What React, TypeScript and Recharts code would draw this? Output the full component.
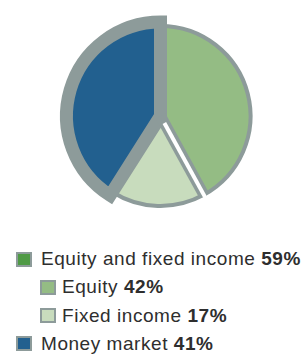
import React from 'react';
import { PieChart, Pie, Cell } from 'recharts';

// slices, clockwise from 12 o'clock
const categories = ['Equity', 'Fixed income', 'Money market'];
const shares = [42, 17, 41];

// legend rows (the first one groups equity + fixed income)
const legendLabels = ['Equity and fixed income', 'Equity', 'Fixed income', 'Money market'];
const legendShares = [59, 42, 17, 41];
const legendDepth = [0, 1, 1, 0];

const GRAY = '#8d9b9a';
const BLUE = '#22608f';
const GREEN = '#94bc84';
const LIGHT = '#c8dcbd';
const DARK_GREEN = '#4f9a45';

const sliceColors = [GREEN, LIGHT, BLUE];
const legendColors = [DARK_GREEN, GREEN, LIGHT, BLUE];

const data = categories.map((name, i) => ({ name, value: shares[i] }));

// white cut between equity and fixed income, laid on the equity end angle
const renderSeparator = (props: any) => {
  if (props.index !== 0) return null;
  const { cx, cy, endAngle, outerRadius } = props;
  const rad = (-endAngle * Math.PI) / 180;
  const at = (r: number) => [cx + r * Math.cos(rad), cy + r * Math.sin(rad)];
  const [x0, y0] = at(0);
  const [x1, y1] = at(outerRadius);
  const [w0x, w0y] = at(8);
  const [w1x, w1y] = at(outerRadius + 4);
  return (
    <g>
      <line x1={x0} y1={y0} x2={x1} y2={y1} stroke={GRAY} strokeWidth={11} />
      <line x1={w0x} y1={w0y} x2={w1x} y2={w1y} stroke="#fff" strokeWidth={4} />
    </g>
  );
};

export default function App() {
  return (
    <div
      style={{
        position: 'absolute',
        left: 0,
        top: 0,
        width: 305,
        height: 355,
        background: '#fff',
        fontFamily: '"Liberation Sans", Arial, sans-serif',
        color: '#2e2e2e',
      }}
    >
      <PieChart width={305} height={220}>
        <Pie
          data={data}
          dataKey="value"
          cx={155.5}
          cy={111}
          startAngle={90}
          endAngle={-270}
          outerRadius={90}
          isAnimationActive={false}
          label={renderSeparator}
          labelLine={false}
        >
          {data.map((d, i) => (
            <Cell
              key={d.name}
              fill={i < 2 ? sliceColors[i] : 'none'}
              stroke={i < 2 ? GRAY : 'none'}
              strokeWidth={4}
            />
          ))}
        </Pie>
        <Pie
          data={data}
          dataKey="value"
          cx={155.5}
          cy={111}
          startAngle={90}
          endAngle={-270}
          outerRadius={94}
          isAnimationActive={false}
        >
          {data.map((d, i) => (
            <Cell
              key={d.name}
              fill={i === 2 ? BLUE : 'none'}
              stroke={i === 2 ? GRAY : 'none'}
              strokeWidth={13}
              strokeLinejoin="miter"
            />
          ))}
        </Pie>
      </PieChart>

      <div style={{ position: 'absolute', left: 0, top: 245 }}>
        {legendLabels.map((label, i) => (
          <div
            key={label}
            style={{
              position: 'relative',
              height: 28.3,
              lineHeight: '28.3px',
              fontSize: 19,
              letterSpacing: 0.55,
              whiteSpace: 'nowrap',
              paddingLeft: legendDepth[i] ? 62 : 41,
            }}
          >
            <span
              style={{
                position: 'absolute',
                left: legendDepth[i] ? 40 : 16,
                top: 6.5,
                width: 12,
                height: 11,
                background: legendColors[i],
                border: `2px solid ${GRAY}`,
              }}
            />
            {label} <b>{legendShares[i]}%</b>
          </div>
        ))}
      </div>
    </div>
  );
}
